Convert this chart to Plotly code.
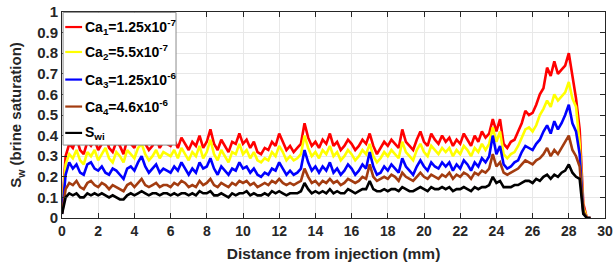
import numpy as np
import plotly.graph_objects as go

# distance grid (mm), 0.2 mm step
distance = [round(0.2 * i, 1) for i in range(147)]

ca1 = [
    0.03, 0.30, 0.36, 0.34, 0.39, 0.33, 0.31, 0.37, 0.35, 0.38,
    0.33, 0.36, 0.40, 0.34, 0.32, 0.37, 0.35, 0.31, 0.38, 0.36,
    0.34, 0.40, 0.42, 0.36, 0.33, 0.35, 0.39, 0.34, 0.37, 0.36,
    0.35, 0.38, 0.34, 0.39, 0.36, 0.33, 0.37, 0.35, 0.40, 0.34,
    0.37, 0.43, 0.36, 0.33, 0.38, 0.35, 0.32, 0.37, 0.36, 0.41,
    0.36, 0.38, 0.34, 0.37, 0.32, 0.31, 0.34, 0.33, 0.37, 0.35,
    0.41, 0.37, 0.33, 0.35, 0.32, 0.34, 0.36, 0.46, 0.39, 0.35,
    0.37, 0.34, 0.38, 0.36, 0.41, 0.35, 0.37, 0.33, 0.35, 0.38,
    0.36, 0.33, 0.35, 0.38, 0.36, 0.41, 0.35, 0.31, 0.34, 0.37,
    0.35, 0.38, 0.36, 0.34, 0.43, 0.37, 0.35, 0.33, 0.38, 0.42,
    0.37, 0.35, 0.41, 0.38, 0.36, 0.40, 0.37, 0.39, 0.35, 0.38,
    0.36, 0.41, 0.38, 0.35, 0.40, 0.37, 0.42, 0.39, 0.41, 0.48,
    0.42, 0.48, 0.36, 0.34, 0.37, 0.38, 0.42, 0.46, 0.52, 0.50,
    0.51, 0.55, 0.60, 0.63, 0.73, 0.69, 0.76, 0.70, 0.72, 0.74,
    0.80, 0.68, 0.58, 0.43, 0.07, 0.00, 0.00,
]

ca2 = [
    0.03, 0.26, 0.31, 0.29, 0.33, 0.28, 0.26, 0.32, 0.30, 0.33,
    0.28, 0.31, 0.34, 0.29, 0.27, 0.32, 0.30, 0.27, 0.33, 0.31,
    0.29, 0.34, 0.36, 0.31, 0.28, 0.30, 0.33, 0.29, 0.32, 0.31,
    0.30, 0.33, 0.29, 0.34, 0.31, 0.28, 0.32, 0.30, 0.35, 0.29,
    0.32, 0.38, 0.31, 0.28, 0.33, 0.30, 0.27, 0.32, 0.31, 0.36,
    0.31, 0.33, 0.29, 0.32, 0.28, 0.27, 0.29, 0.28, 0.32, 0.30,
    0.35, 0.32, 0.28, 0.30, 0.28, 0.29, 0.31, 0.40, 0.34, 0.30,
    0.32, 0.29, 0.33, 0.31, 0.35, 0.30, 0.32, 0.28, 0.30, 0.33,
    0.31, 0.28, 0.30, 0.33, 0.31, 0.36, 0.30, 0.27, 0.29, 0.32,
    0.30, 0.33, 0.31, 0.29, 0.37, 0.32, 0.30, 0.28, 0.33, 0.36,
    0.32, 0.30, 0.35, 0.33, 0.31, 0.34, 0.32, 0.34, 0.30, 0.33,
    0.31, 0.35, 0.33, 0.30, 0.34, 0.32, 0.36, 0.33, 0.36, 0.44,
    0.37, 0.42, 0.31, 0.29, 0.31, 0.32, 0.35, 0.39, 0.43, 0.44,
    0.42, 0.45, 0.50, 0.53, 0.57, 0.54, 0.60, 0.57, 0.59, 0.61,
    0.66, 0.58, 0.54, 0.36, 0.05, 0.00, 0.00,
]

ca3 = [
    0.02, 0.21, 0.27, 0.24, 0.26, 0.22, 0.21, 0.26, 0.27, 0.24,
    0.23, 0.25, 0.22, 0.21, 0.24, 0.23, 0.21, 0.19, 0.24, 0.25,
    0.23, 0.27, 0.30, 0.25, 0.22, 0.24, 0.26, 0.22, 0.24, 0.23,
    0.22, 0.25, 0.23, 0.27, 0.24, 0.21, 0.24, 0.22, 0.27, 0.24,
    0.25, 0.29, 0.24, 0.21, 0.25, 0.23, 0.21, 0.24, 0.23, 0.27,
    0.24, 0.25, 0.22, 0.24, 0.21, 0.20, 0.22, 0.21, 0.24, 0.23,
    0.27, 0.24, 0.21, 0.23, 0.21, 0.22, 0.24, 0.33, 0.27, 0.23,
    0.25, 0.22, 0.25, 0.23, 0.27, 0.22, 0.24, 0.21, 0.23, 0.26,
    0.24, 0.21, 0.23, 0.26, 0.24, 0.32, 0.25, 0.21, 0.22, 0.25,
    0.23, 0.26, 0.24, 0.22, 0.29, 0.25, 0.23, 0.21, 0.25, 0.28,
    0.25, 0.23, 0.27, 0.25, 0.24, 0.27, 0.25, 0.27, 0.23, 0.26,
    0.24, 0.28, 0.26, 0.23, 0.27, 0.25, 0.29, 0.27, 0.30, 0.40,
    0.31, 0.35, 0.26, 0.24, 0.25, 0.27, 0.28, 0.32, 0.35, 0.34,
    0.33, 0.36, 0.38, 0.42, 0.45, 0.41, 0.47, 0.43, 0.46, 0.50,
    0.55, 0.46, 0.42, 0.31, 0.03, 0.00, 0.00,
]

ca4 = [
    0.02, 0.14, 0.17, 0.16, 0.18, 0.15, 0.14, 0.17, 0.18, 0.16,
    0.15, 0.17, 0.16, 0.14, 0.16, 0.15, 0.14, 0.13, 0.16, 0.17,
    0.15, 0.17, 0.19, 0.16, 0.15, 0.16, 0.17, 0.15, 0.16, 0.16,
    0.15, 0.17, 0.16, 0.18, 0.17, 0.15, 0.16, 0.15, 0.18, 0.16,
    0.17, 0.19, 0.16, 0.15, 0.17, 0.16, 0.15, 0.17, 0.16, 0.18,
    0.17, 0.18, 0.16, 0.17, 0.15, 0.16, 0.17, 0.16, 0.18, 0.17,
    0.19, 0.17, 0.16, 0.17, 0.16, 0.17, 0.18, 0.24, 0.20, 0.17,
    0.18, 0.16, 0.18, 0.17, 0.19, 0.17, 0.18, 0.16, 0.17, 0.19,
    0.18, 0.17, 0.18, 0.20, 0.19, 0.26, 0.20, 0.18, 0.19, 0.20,
    0.19, 0.21, 0.20, 0.18, 0.22, 0.20, 0.19, 0.18, 0.20, 0.22,
    0.20, 0.19, 0.21, 0.20, 0.19, 0.21, 0.20, 0.22, 0.19, 0.21,
    0.20, 0.22, 0.21, 0.19, 0.22, 0.21, 0.23, 0.22, 0.24, 0.31,
    0.25, 0.27, 0.22, 0.21, 0.22, 0.23, 0.24, 0.26, 0.28, 0.27,
    0.26, 0.28, 0.29, 0.31, 0.34, 0.30, 0.33, 0.31, 0.34, 0.37,
    0.40, 0.33, 0.30, 0.25, 0.03, 0.00, 0.00,
]

swi = [
    0.02, 0.10, 0.12, 0.11, 0.12, 0.10, 0.10, 0.12, 0.11, 0.12,
    0.11, 0.12, 0.11, 0.10, 0.11, 0.10, 0.09, 0.09, 0.11, 0.12,
    0.11, 0.12, 0.13, 0.12, 0.11, 0.12, 0.12, 0.11, 0.12, 0.12,
    0.11, 0.12, 0.11, 0.12, 0.12, 0.11, 0.12, 0.11, 0.13, 0.12,
    0.12, 0.13, 0.11, 0.11, 0.12, 0.11, 0.10, 0.12, 0.11, 0.12,
    0.12, 0.13, 0.11, 0.12, 0.11, 0.11, 0.12, 0.11, 0.13, 0.12,
    0.13, 0.12, 0.11, 0.12, 0.12, 0.12, 0.13, 0.17, 0.14, 0.12,
    0.13, 0.12, 0.13, 0.12, 0.14, 0.12, 0.13, 0.12, 0.12, 0.14,
    0.13, 0.12, 0.13, 0.14, 0.14, 0.18, 0.14, 0.13, 0.13, 0.14,
    0.13, 0.14, 0.14, 0.13, 0.15, 0.14, 0.13, 0.13, 0.14, 0.15,
    0.14, 0.13, 0.15, 0.14, 0.14, 0.15, 0.14, 0.15, 0.13, 0.14,
    0.14, 0.15, 0.14, 0.13, 0.15, 0.14, 0.15, 0.15, 0.16, 0.20,
    0.17, 0.18, 0.15, 0.15, 0.15, 0.16, 0.16, 0.17, 0.18, 0.18,
    0.17, 0.19, 0.18, 0.20, 0.21, 0.19, 0.21, 0.20, 0.22, 0.23,
    0.26, 0.22, 0.20, 0.19, 0.02, 0.00, 0.00,
]

names = [
    "Ca<sub>1</sub>=1.25x10<sup>-7</sup>",
    "Ca<sub>2</sub>=5.5x10<sup>-7</sup>",
    "Ca<sub>3</sub>=1.25x10<sup>-6</sup>",
    "Ca<sub>4</sub>=4.6x10<sup>-6</sup>",
    "S<sub>wi</sub>",
]
colors = ["#ff0000", "#ffff00", "#0000ff", "#a33c10", "#000000"]
series = [ca1, ca2, ca3, ca4, swi]

x_ticks = list(range(0, 31, 2))
y_ticks = [round(0.1 * i, 1) for i in range(11)]
y_tick_text = ["0", "0.1", "0.2", "0.3", "0.4", "0.5", "0.6", "0.7", "0.8", "0.9", "1"]

FONT = "Liberation Sans, Arial, sans-serif"

fig = go.Figure()
for name, col, ys in zip(names, colors, series):
    fig.add_trace(go.Scatter(x=distance, y=ys, mode="lines", name=name,
                             line=dict(color=col, width=2.6), showlegend=False))

fig.update_layout(
    width=614, height=266,
    margin=dict(l=62, r=9, t=12, b=48, autoexpand=False),
    paper_bgcolor="white", plot_bgcolor="white",
    font=dict(family=FONT, size=14, color="#262626"),
)
fig.update_xaxes(
    range=[0, 30], tickvals=x_ticks, ticks="inside", ticklen=5, tickcolor="#262626",
    showgrid=True, gridcolor="#e8e8e8", gridwidth=1, zeroline=False,
    showline=True, linecolor="#262626", linewidth=1, mirror="ticks",
    automargin=False, ticklabeloverflow="allow",
    tickfont=dict(family=FONT, size=14, color="#262626", weight="bold"),
    title=dict(text="<b>Distance from injection (mm)</b>", standoff=10,
               font=dict(family=FONT, size=15.5, color="#262626")),
)
fig.update_yaxes(
    range=[0, 1], tickvals=y_ticks, ticktext=y_tick_text, ticks="inside", ticklen=5,
    tickcolor="#262626",
    showgrid=True, gridcolor="#e8e8e8", gridwidth=1, zeroline=False,
    showline=True, linecolor="#262626", linewidth=1, mirror="ticks",
    automargin=False, ticklabeloverflow="allow",
    tickfont=dict(family=FONT, size=15, color="#262626", weight="bold"),
    title=dict(text="<b>S<sub>w</sub> (brine saturation)</b>", standoff=11,
               font=dict(family=FONT, size=15, color="#262626")),
)

# manual legend box (paper coordinates)
fig.add_shape(type="rect", xref="paper", yref="paper", x0=0.002, x1=0.21, y0=0.354, y1=0.998,
              fillcolor="white", line=dict(color="#8c8c8c", width=1), layer="above")
entry_y = [0.927, 0.806, 0.672, 0.541, 0.413]
for name, col, yy in zip(names, colors, entry_y):
    fig.add_shape(type="line", xref="paper", yref="paper", x0=0.006, x1=0.037, y0=yy, y1=yy,
                  line=dict(color=col, width=2.2), layer="above")
    fig.add_annotation(xref="paper", yref="paper", x=0.038, y=yy, text="<b>" + name + "</b>",
                       showarrow=False, xanchor="left", yanchor="middle",
                       font=dict(family=FONT, size=14, color="#000000"))

# remove the default page margin so the figure sits at the window's corner
fig.write_html("out.html", config={"displayModeBar": False},
               post_script="document.body.style.margin='0';document.body.style.overflow='hidden';")
